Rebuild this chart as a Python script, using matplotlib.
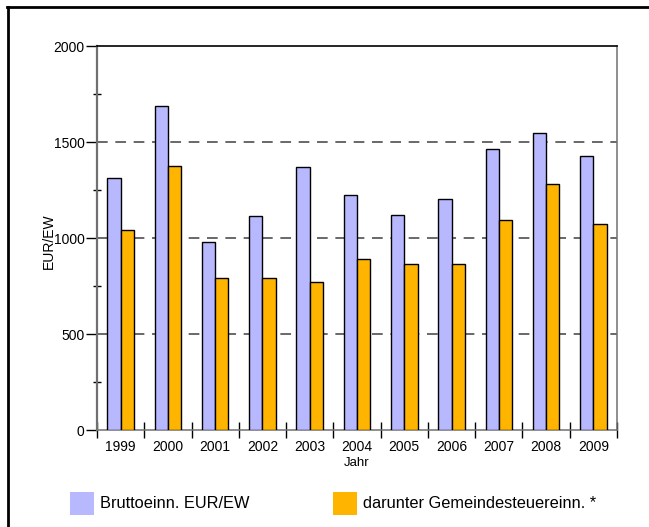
import numpy as np
import matplotlib
matplotlib.use("Agg")
import matplotlib.pyplot as plt
from matplotlib.lines import Line2D
from matplotlib.patches import Rectangle

# Chart data
years = ['1999', '2000', '2001', '2002', '2003', '2004', '2005', '2006', '2007', '2008', '2009']
brutto = [1315, 1690, 980, 1112, 1372, 1225, 1118, 1205, 1462, 1548, 1428]
gemeinde = [1040, 1376, 790, 793, 769, 891, 863, 866, 1092, 1281, 1075]
legend_labels = ['Bruttoeinn. EUR/EW', 'darunter Gemeindesteuereinn. *']

blue = '#b8b8ff'
orange = '#ffb400'
sans = ['Liberation Sans', 'DejaVu Sans']

W, H = 649, 527
fig = plt.figure(figsize=(W / 100, H / 100), dpi=100)
ax = fig.add_axes([97 / W, 97 / H, 520 / W, 384 / H])

x = np.arange(len(years))
bw = 0.28
ax.bar(x - bw / 2, brutto, bw, color=blue, edgecolor='black', linewidth=1, zorder=3)
ax.bar(x + bw / 2, gemeinde, bw, color=orange, edgecolor='black', linewidth=1, zorder=3)

ax.set_xlim(-0.5, len(years) - 0.5)
ax.set_ylim(0, 2000)

# dashed grid lines
for v in [500, 1000, 1500]:
    ax.axhline(v, color='#404040', linewidth=1.1, dashes=(7, 5), zorder=1)

# spines
ax.spines['top'].set_color('black')
ax.spines['top'].set_linewidth(1.2)
ax.spines['left'].set_color('#707070')
ax.spines['left'].set_linewidth(1.6)
ax.spines['right'].set_color('#707070')
ax.spines['right'].set_linewidth(1.1)
ax.spines['bottom'].set_color('#707070')
ax.spines['bottom'].set_linewidth(1.1)

# y ticks
ax.set_yticks([0, 500, 1000, 1500, 2000])
ax.set_yticks(np.arange(250, 2000, 500), minor=True)
ax.tick_params(axis='y', which='major', direction='out', length=8, width=1,
               color='black', pad=1)
ax.tick_params(axis='y', which='minor', direction='inout', length=6, width=1,
               color='black')
for lab in ax.get_yticklabels():
    lab.set_family(sans)
    lab.set_fontsize(10)

# x ticks: labels at centres, tick marks at boundaries
ax.set_xticks(x)
ax.set_xticklabels(years, family=sans, fontsize=10)
ax.set_xticks(np.arange(-0.5, len(years), 1.0), minor=True)
ax.tick_params(axis='x', which='major', length=0, pad=7)
ax.tick_params(axis='x', which='minor', direction='inout', length=12, width=1,
               color='black')

ax.text(-0.092, 0.492, 'EUR/EW', transform=ax.transAxes, rotation=90,
        ha='center', va='center', family=sans, fontsize=10)
ax.text(0.5, -0.087, 'Jahr', transform=ax.transAxes, ha='center', va='center',
        family=sans, fontsize=9.5)

# outer frame (top and left)
fig.add_artist(Line2D([7 / W, 1], [1 - 7 / H, 1 - 7 / H], transform=fig.transFigure,
                      color='black', linewidth=2))
fig.add_artist(Line2D([8 / W, 8 / W], [0, 1 - 7 / H], transform=fig.transFigure,
                      color='black', linewidth=2))

# legend
for (lx, col, lab) in [(70, blue, legend_labels[0]), (333, orange, legend_labels[1])]:
    fig.add_artist(Rectangle((lx / W, 1 - 515 / H), 24 / W, 23 / H,
                             transform=fig.transFigure, facecolor=col, edgecolor='none'))
    fig.text((lx + 30) / W, 1 - 504 / H, lab, ha='left', va='center',
             family=sans, fontsize=11.8)

fig.savefig('out.png', dpi=100)
